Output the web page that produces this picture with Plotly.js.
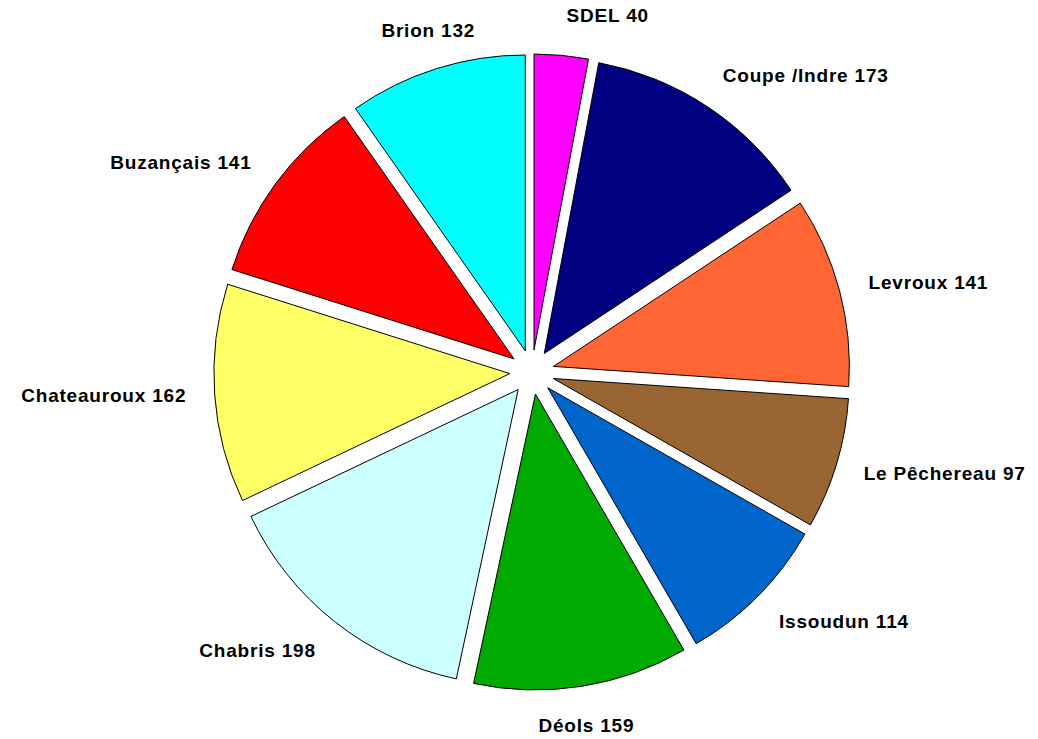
<!DOCTYPE html>
<html>
<head>
<meta charset="utf-8">
<script src="https://cdn.plot.ly/plotly-3.0.1.min.js"></script>
<style>
html,body{margin:0;padding:0;background:#fff;}
#chart{width:1038px;height:739px;}
#chart text.slicetext, #chart .annotation-text { letter-spacing: 0.8px; }
</style>
</head>
<body>
<div id="chart"></div>
<script>
const categories = ["SDEL", "Coupe /Indre", "Levroux", "Le Pêchereau", "Issoudun", "Déols", "Chabris", "Chateauroux", "Buzançais", "Brion"];
const values = [40, 173, 141, 97, 114, 159, 198, 162, 141, 132];
const colors = ["#FF00FF", "#000080", "#FF6633", "#996633", "#0066CC", "#00AA00", "#CCFFFF", "#FFFF66", "#FF0000", "#00FFFF"];
// labels that sit centred above/below their slice instead of to the side
const centredLabels = ["Brion", "Déols"];
const labelsText = categories.map((c, i) => c + " " + values[i]);

const W = 1038, H = 739;
const labelFont = { family: "Liberation Sans, Arial, sans-serif", size: 19, color: "#000000", weight: "bold" };
const ringDomain = { x: [0.178, 0.847], y: [0.026, 0.967] };

// Pie slices (exploded)
const slices = {
  type: "pie",
  labels: categories,
  values: values,
  textinfo: "none",
  hoverinfo: "label+value",
  sort: false,
  direction: "clockwise",
  rotation: 0,
  pull: values.map(() => 0.075),
  marker: { colors: colors, line: { color: "#000000", width: 1 } },
  domain: { x: [0.206, 0.819], y: [0.066, 0.927] },
  showlegend: false
};

// Same data on a larger, invisible pie that only carries the outside labels
const labelRing = {
  type: "pie",
  labels: categories,
  values: values,
  text: labelsText.map((t, i) => centredLabels.includes(categories[i]) ? "" : t),
  textinfo: "text",
  textposition: "outside",
  hoverinfo: "skip",
  sort: false,
  direction: "clockwise",
  rotation: 0,
  marker: { colors: values.map(() => "rgba(0,0,0,0)"), line: { width: 0 } },
  outsidetextfont: labelFont,
  textfont: labelFont,
  domain: ringDomain,
  showlegend: false
};

// Centred labels placed at the slice mid-angle on the label ring
const total = values.reduce((a, b) => a + b, 0);
const cx = (ringDomain.x[0] + ringDomain.x[1]) / 2;
const cy = (ringDomain.y[0] + ringDomain.y[1]) / 2;
const ringR = 345;
const annotations = [];
let cum = 0;
values.forEach((v, i) => {
  const mid = (cum + v / 2) / total * 2 * Math.PI;
  cum += v;
  if (!centredLabels.includes(categories[i])) return;
  const up = Math.cos(mid) > 0;
  annotations.push({
    xref: "paper", yref: "paper",
    x: cx + ringR * Math.sin(mid) / W,
    y: cy + ringR * Math.cos(mid) / H,
    text: labelsText[i],
    showarrow: false,
    xanchor: "center",
    yanchor: up ? "bottom" : "top",
    font: labelFont
  });
});

const layout = {
  width: W,
  height: H,
  margin: { l: 0, r: 0, t: 0, b: 0 },
  paper_bgcolor: "#ffffff",
  plot_bgcolor: "#ffffff",
  showlegend: false,
  annotations: annotations
};

Plotly.newPlot("chart", [slices, labelRing], layout, { displayModeBar: false, staticPlot: true });
</script>
</body>
</html>
